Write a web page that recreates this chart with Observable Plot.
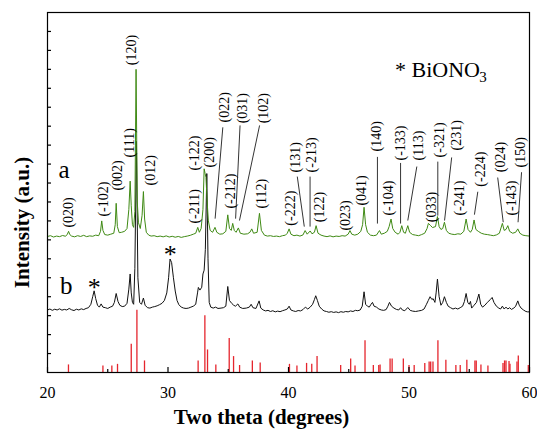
<!DOCTYPE html>
<html><head><meta charset="utf-8">
<script src="https://cdn.jsdelivr.net/npm/d3@7"></script>
<script src="https://cdn.jsdelivr.net/npm/@observablehq/plot@0.6"></script>
<style>
html,body{margin:0;padding:0;background:#fff;}
#chart svg{display:block;}
#chart svg text{font-family:"Liberation Serif","Times New Roman",serif;}
</style>
</head><body><div id="chart"></div>
<script>
// curve a (green) : [two theta, intensity a.u.]
const curveA = [
[20.0,7.18],[20.25,7.22],[20.5,7.15],[20.75,7.2],[21.0,7.17],[21.25,7.23],[21.5,7.19],[21.65,7.3],[21.75,7.45],[21.85,7.28],
[22.0,7.2],[22.25,7.16],[22.5,7.22],[22.75,7.18],[23.0,7.24],[23.25,7.17],[23.5,7.21],[23.75,7.19],[24.0,7.25],[24.25,7.22],
[24.4,7.45],[24.5,8.0],[24.6,7.5],[24.75,7.28],[25.0,7.25],[25.25,7.3],[25.5,7.35],[25.62,7.8],[25.7,8.93],[25.8,7.7],
[25.95,7.38],[26.15,7.4],[26.4,7.45],[26.6,7.6],[26.75,8.6],[26.86,10.1],[26.95,8.8],[27.05,7.8],[27.15,7.66],[27.25,8.5],
[27.35,16.0],[27.45,9.0],[27.55,7.9],[27.7,7.6],[27.85,8.3],[27.96,9.55],[28.06,8.1],[28.2,7.4],[28.4,7.25],[28.6,7.2],
[28.85,7.22],[29.1,7.17],[29.35,7.2],[29.6,7.16],[29.85,7.21],[30.1,7.15],[30.35,7.19],[30.6,7.14],[30.85,7.18],[31.1,7.13],
[31.35,7.17],[31.6,7.2],[31.85,7.24],[32.1,7.3],[32.3,7.35],[32.47,7.66],[32.6,7.4],[32.75,7.6],[32.9,8.6],[33.0,10.75],
[33.08,10.5],[33.15,10.3],[33.25,9.0],[33.35,8.0],[33.5,7.5],[33.7,7.4],[33.9,7.66],[34.05,7.4],[34.3,7.3],[34.55,7.32],
[34.8,7.45],[34.96,8.32],[35.1,7.6],[35.25,7.5],[35.37,7.87],[35.5,7.5],[35.65,7.4],[35.84,7.63],[36.0,7.35],[36.3,7.3],
[36.6,7.32],[36.8,7.4],[36.95,7.58],[37.1,7.35],[37.4,7.4],[37.59,8.4],[37.75,7.5],[38.0,7.25],[38.25,7.2],[38.5,7.22],
[38.75,7.18],[39.0,7.2],[39.25,7.17],[39.5,7.22],[39.75,7.25],[39.9,7.35],[40.05,7.58],[40.2,7.3],[40.45,7.22],[40.7,7.25],
[40.95,7.2],[41.2,7.26],[41.38,7.49],[41.55,7.3],[41.8,7.47],[41.95,7.32],[42.15,7.4],[42.29,7.75],[42.45,7.35],[42.7,7.25],
[42.95,7.2],[43.2,7.17],[43.45,7.21],[43.7,7.16],[43.95,7.2],[44.2,7.18],[44.45,7.22],[44.7,7.2],[44.95,7.3],[45.1,7.49],
[45.25,7.3],[45.5,7.25],[45.75,7.3],[46.0,7.45],[46.15,7.8],[46.27,8.72],[46.4,7.8],[46.55,7.4],[46.8,7.25],[47.05,7.22],
[47.3,7.25],[47.55,7.49],[47.7,7.3],[47.95,7.35],[48.2,7.45],[48.35,7.7],[48.51,8.1],[48.65,7.6],[48.85,7.4],[49.1,7.3],
[49.25,7.4],[49.4,7.75],[49.55,7.4],[49.7,7.35],[49.9,7.75],[50.05,7.4],[50.3,7.28],[50.55,7.25],[50.8,7.22],[51.05,7.28],
[51.3,7.35],[51.5,7.6],[51.61,7.87],[51.8,7.75],[51.95,7.65],[52.2,7.7],[52.36,8.23],[52.5,7.7],[52.65,7.55],[52.8,7.6],
[52.94,7.93],[53.1,7.5],[53.3,7.35],[53.55,7.3],[53.8,7.28],[54.05,7.32],[54.3,7.3],[54.55,7.45],[54.74,8.1],[54.9,7.55],
[55.1,7.4],[55.25,7.55],[55.4,8.05],[55.55,7.55],[55.75,7.45],[56.0,7.35],[56.25,7.3],[56.5,7.28],[56.75,7.25],[57.0,7.22],
[57.25,7.26],[57.5,7.35],[57.75,7.87],[57.9,7.5],[58.05,7.55],[58.2,7.75],[58.35,7.45],[58.6,7.35],[58.85,7.4],[59.03,7.58],
[59.2,7.35],[59.45,7.25],[59.7,7.22],[60.0,7.2]
];

// curve b (black)
const curveB = [
[20.0,3.3],[20.2,3.35],[20.4,3.28],[20.6,3.34],[20.8,3.3],[21.0,3.36],[21.2,3.29],[21.4,3.33],[21.6,3.3],[21.8,3.38],
[22.0,3.31],[22.2,3.27],[22.4,3.34],[22.6,3.3],[22.8,3.36],[23.0,3.32],[23.2,3.38],[23.4,3.42],[23.6,3.6],[23.75,4.0],
[23.87,4.31],[24.0,3.9],[24.15,3.55],[24.3,3.45],[24.45,3.62],[24.6,3.45],[24.8,3.42],[25.0,3.38],[25.2,3.45],[25.4,3.5],
[25.55,3.7],[25.7,4.17],[25.85,3.75],[26.0,3.55],[26.2,3.48],[26.4,3.5],[26.6,3.65],[26.75,4.4],[26.86,5.2],[26.95,4.2],
[27.05,3.7],[27.15,3.6],[27.25,5.5],[27.38,12.2],[27.5,5.0],[27.65,3.7],[27.8,3.6],[27.96,3.93],[28.1,3.55],[28.3,3.42],
[28.5,3.4],[28.7,3.45],[28.9,3.48],[29.1,3.52],[29.3,3.58],[29.5,3.65],[29.7,3.8],[29.9,4.2],[30.05,5.0],[30.17,5.99],
[30.3,5.8],[30.45,5.0],[30.6,4.3],[30.75,3.8],[30.9,3.58],[31.1,3.45],[31.3,3.4],[31.5,3.38],[31.7,3.4],[31.9,3.45],
[32.1,3.5],[32.3,3.6],[32.45,4.2],[32.52,4.49],[32.65,4.35],[32.8,4.5],[32.9,5.2],[33.0,5.4],[33.1,6.5],[33.22,10.5],
[33.32,6.0],[33.42,3.7],[33.55,3.45],[33.75,3.4],[33.95,3.45],[34.15,3.38],[34.4,3.4],[34.6,3.42],[34.8,3.5],[34.96,4.54],
[35.1,3.8],[35.3,3.64],[35.45,3.55],[35.6,3.5],[35.8,3.62],[35.95,3.45],[36.2,3.38],[36.5,3.4],[36.75,3.45],[36.9,3.6],
[37.05,3.42],[37.3,3.38],[37.56,3.78],[37.7,3.4],[37.9,3.3],[38.1,3.25],[38.3,3.28],[38.5,3.22],[38.7,3.26],[38.9,3.2],
[39.1,3.24],[39.3,3.21],[39.5,3.26],[39.7,3.3],[39.9,3.35],[40.05,3.5],[40.2,3.3],[40.4,3.25],[40.6,3.22],[40.8,3.27],
[41.0,3.25],[41.2,3.32],[41.4,3.45],[41.6,3.35],[41.8,3.45],[42.0,3.6],[42.15,3.85],[42.26,4.05],[42.4,3.8],[42.55,3.5],
[42.75,3.35],[42.95,3.25],[43.15,3.22],[43.35,3.18],[43.55,3.21],[43.75,3.17],[43.95,3.2],[44.15,3.16],[44.35,3.21],[44.55,3.18],
[44.75,3.22],[44.95,3.2],[45.15,3.25],[45.35,3.22],[45.55,3.28],[45.75,3.26],[45.95,3.3],[46.12,3.5],[46.27,4.26],[46.4,3.6],
[46.55,3.5],[46.7,3.45],[46.85,3.6],[46.97,3.7],[47.1,3.5],[47.3,3.45],[47.5,3.35],[47.7,3.3],[47.9,3.28],[48.1,3.32],
[48.25,3.5],[48.38,3.7],[48.55,3.5],[48.75,3.4],[48.95,3.33],[49.15,3.3],[49.3,3.42],[49.45,3.3],[49.65,3.26],[49.9,3.43],
[50.1,3.28],[50.3,3.24],[50.55,3.22],[50.8,3.25],[51.05,3.28],[51.25,3.35],[51.45,3.6],[51.6,3.8],[51.75,4.0],[51.9,3.85],
[52.0,3.9],[52.15,3.7],[52.25,4.2],[52.36,4.93],[52.5,4.0],[52.65,3.55],[52.8,3.7],[52.94,4.0],[53.1,3.7],[53.25,3.5],
[53.45,3.42],[53.65,3.35],[53.85,3.4],[54.05,3.35],[54.25,3.42],[54.45,3.5],[54.6,3.75],[54.74,4.17],[54.88,3.7],[55.0,3.6],
[55.1,3.75],[55.2,3.4],[55.4,3.55],[55.6,3.7],[55.8,4.14],[55.95,3.6],[56.1,3.45],[56.3,3.55],[56.5,3.7],[56.75,3.85],
[56.9,3.96],[57.05,3.7],[57.25,3.5],[57.45,3.4],[57.6,3.35],[57.75,3.5],[57.9,3.35],[58.05,3.45],[58.2,3.35],[58.35,3.42],
[58.5,3.33],[58.7,3.4],[58.85,3.5],[59.03,3.78],[59.15,3.55],[59.3,3.4],[59.5,3.3],[59.7,3.22],[59.85,3.2],[60.0,3.2]
];

// standard reference pattern (red sticks): [two theta, relative height]
const refPeaks = [
[21.74,0.40],[24.6,0.34],[25.34,0.34],[25.81,0.43],[26.95,1.49],[27.42,3.29],[28.05,0.61],[32.5,0.61],[33.06,2.99],[33.28,1.19],
[33.97,0.40],[35.08,1.79],[35.44,0.84],[35.94,0.37],[37.0,0.61],[37.65,0.50],[40.08,0.43],[40.7,0.34],[41.5,0.48],[41.93,0.43],
[42.37,0.84],[44.33,0.37],[45.16,0.71],[45.52,0.34],[46.35,1.67],[47.04,0.37],[47.49,0.37],[47.6,0.40],[48.43,0.71],[48.6,0.71],
[49.53,0.71],[50.0,0.37],[50.43,0.37],[51.31,0.48],[51.67,0.55],[51.8,0.55],[51.99,0.55],[52.4,1.67],[53.06,0.65],[53.89,0.37],
[54.25,0.37],[54.8,0.65],[55.47,0.61],[55.58,0.61],[55.97,0.40],[56.55,0.34],[57.8,0.48],[57.93,0.61],[58.05,0.61],[58.3,0.58],
[58.38,0.43],[58.96,0.55],[59.07,0.87],[59.9,0.37]
];

// Miller index labels: [text, two theta, intensity at text start]
const hklLabels = [
["(020)",21.73,7.65],["(-102)",24.64,8.23],["(002)",25.83,9.6],["(111)",26.77,11.35],["(120)",26.94,16.22],
["(012)",28.51,9.87],["(-211)",32.19,7.86],["(-122)",32.19,10.66],["(200)",33.44,10.82],["(022)",34.66,13.2],
["(031)",36.21,13.15],["(102)",37.89,13.15],["(-212)",35.15,8.65],["(112)",37.78,8.65],["(-222)",40.13,7.75],
["(131)",40.55,10.56],["(-213)",41.93,10.56],["(122)",42.56,7.93],["(023)",44.7,7.49],["(041)",46.08,8.81],
["(140)",47.33,11.67],["(-104)",48.29,8.28],["(-133)",49.26,11.19],["(113)",50.76,11.19],["(033)",51.83,7.93],
["(-321)",52.5,11.35],["(231)",53.97,11.72],["(-241)",54.18,8.28],["(-224)",55.9,9.81],["(024)",57.56,10.57],
["(-143)",58.47,8.28],["(150)",59.22,10.82]
];

// leader lines: [theta1, int1, theta2, int2]
const leaders = [
[34.55,12.94,33.91,8.12],[35.98,13.04,35.61,8.12],[37.6,13.04,35.93,8.02],[40.73,10.34,41.31,7.7],
[41.79,10.34,41.79,7.7],[47.38,11.38,47.38,7.86],[49.3,11.06,49.3,7.86],[50.65,10.87,49.9,8.02],
[52.39,11.13,52.39,8.28],[53.54,11.35,52.95,8.02],[55.71,9.54,55.43,8.33],[57.36,10.29,57.82,7.93],
[59.34,10.57,59.05,7.93]
];

const sampleLabels = [["a",21.38,10.24],["b",21.55,4.13]];
const phaseMarks = [["*",23.87,4.03],["*",30.18,5.78]];
const legendMain = [["* BiONO",48.84,15.6]];
const legendSub = [["3",55.82,15.33]];

const xTicks = [20,30,40,50,60];
const xMinorTicks = [25,35,45,55];
const yTicks = [1,2,3,4,5,6,7,8,9,10,11,12,13,14,15,16,17,18];

const serif = "Liberation Serif";

const chart = Plot.plot({
  width: 537, height: 430,
  marginLeft: 47, marginRight: 8, marginTop: 12, marginBottom: 58,
  x: {domain: [20, 60]},
  y: {domain: [0, 19], axis: null},
  style: {background: "white", color: "black"},
  marks: [
    Plot.ruleX(refPeaks, {x: d => d[0], y1: 0, y2: d => d[1], stroke: "#e5252d", strokeWidth: 1.3}),
    Plot.line(curveB, {x: d => d[0], y: d => d[1], stroke: "#111", strokeWidth: 1}),
    Plot.line(curveA, {x: d => d[0], y: d => d[1], stroke: "#3f8a14", strokeWidth: 1}),
    Plot.link(leaders, {x1: d => d[0], y1: d => d[1], x2: d => d[2], y2: d => d[3], stroke: "black", strokeWidth: 0.8}),
    Plot.text(hklLabels, {x: d => d[1], y: d => d[2], text: d => d[0], rotate: -90, textAnchor: "start", lineAnchor: "middle", fontSize: 14, fontFamily: serif, fill: "black"}),
    Plot.text(sampleLabels, {x: d => d[1], y: d => d[2], text: d => d[0], textAnchor: "middle", lineAnchor: "bottom", fontSize: 25, fontFamily: serif, fill: "black"}),
    Plot.text(phaseMarks, {x: d => d[1], y: d => d[2], text: d => d[0], textAnchor: "middle", lineAnchor: "bottom", fontSize: 26, fontFamily: serif, fill: "black"}),
    Plot.text(legendMain, {x: d => d[1], y: d => d[2], text: d => d[0], textAnchor: "start", lineAnchor: "bottom", fontSize: 22, fontFamily: serif, fill: "black"}),
    Plot.text(legendSub, {x: d => d[1], y: d => d[2], text: d => d[0], textAnchor: "start", lineAnchor: "bottom", fontSize: 15, fontFamily: serif, fill: "black"}),
    Plot.frame({stroke: "black", strokeWidth: 1.2}),
    Plot.tickX(xTicks, {x: d => d, insetTop: 355, stroke: "black", strokeWidth: 1.2}),
    Plot.tickX(xMinorTicks, {x: d => d, insetTop: 357, stroke: "black", strokeWidth: 1.2}),
    Plot.tickY(yTicks, {y: d => d, insetRight: 478, stroke: "black", strokeWidth: 1.2}),
    Plot.axisX(xTicks, {tickSize: 0, tickPadding: 14, fontSize: 16, fontFamily: serif, label: null}),
    Plot.text(["Two theta (degrees)"], {frameAnchor: "bottom", dx: -27, dy: 37, lineAnchor: "top", fontSize: 21, fontWeight: "bold", fontFamily: serif, fill: "black"}),
    Plot.text(["Intensity (a.u.)"], {frameAnchor: "left", dx: -25, dy: 30, rotate: -90, textAnchor: "middle", lineAnchor: "middle", fontSize: 21, fontWeight: "bold", fontFamily: serif, fill: "black"})
  ]
});
document.getElementById("chart").appendChild(chart);
</script>
</body></html>
